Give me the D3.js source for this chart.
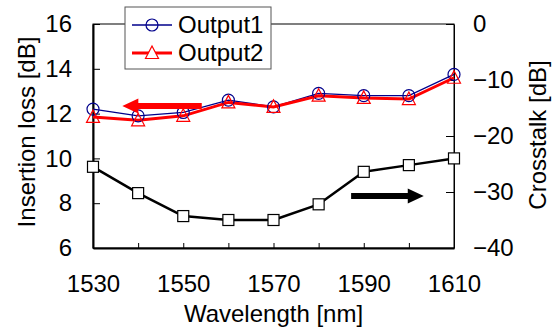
<!DOCTYPE html>
<html>
<head>
<meta charset="utf-8">
<script src="https://cdn.jsdelivr.net/npm/d3@7"></script>
<style>
  body { margin: 0; background: #fff; }
  svg text { font-family: "Liberation Sans", Arial, sans-serif; fill: #000; }
</style>
</head>
<body>
<svg width="554" height="331"></svg>
<script>
// longueurs d'onde (nm)
var wavelengths = [1530, 1540, 1550, 1560, 1570, 1580, 1590, 1600, 1610];
// pertes d'insertion (dB), axe de gauche
var output1 = [12.2, 11.9, 12.05, 12.6, 12.3, 12.9, 12.8, 12.8, 13.75];
var output2 = [11.85, 11.7, 11.9, 12.5, 12.3, 12.8, 12.7, 12.65, 13.6];
// diaphonie (dB), axe de droite
var crosstalk = [-25.5, -30.2, -34.3, -35.0, -35.0, -32.2, -26.4, -25.2, -24.0];

var xTicks = [1530, 1550, 1570, 1590, 1610];
var xMinorTicks = [1530, 1540, 1550, 1560, 1570, 1580, 1590, 1600, 1610];
var leftTicks = [6, 8, 10, 12, 14, 16];
var rightTicks = [-40, -30, -20, -10, 0];

var svg = d3.select("svg");
var margin = { top: 24, right: 100, bottom: 83, left: 93 };
var width = 554 - margin.left - margin.right;
var height = 331 - margin.top - margin.bottom;

var g = svg.append("g")
    .attr("transform", "translate(" + margin.left + "," + margin.top + ")");

var x = d3.scaleLinear().domain([1530, 1610]).range([0, width]);
var yL = d3.scaleLinear().domain([6, 16]).range([height, 0]);
var yR = d3.scaleLinear().domain([-40, 0]).range([height, 0]);

// cadre fin en haut et a droite
g.append("rect")
    .attr("width", width).attr("height", height)
    .attr("fill", "none").attr("stroke", "#000").attr("stroke-width", 1);

// axe du bas : petites graduations vers l'interieur
var xAxis = g.append("g")
    .attr("transform", "translate(0," + height + ")")
    .call(d3.axisBottom(x).tickValues(xMinorTicks).tickSizeInner(-5).tickSizeOuter(0).tickFormat(""));
xAxis.select(".domain").attr("stroke-width", 2);
g.append("g")
    .attr("transform", "translate(0," + height + ")")
    .call(d3.axisBottom(x).tickValues(xTicks).tickSize(0).tickPadding(27).tickFormat(d3.format("d")))
    .call(function(a) { a.select(".domain").remove(); })
    .selectAll("text").attr("font-size", 24);

var leftAxis = g.append("g")
    .call(d3.axisLeft(yL).tickValues(leftTicks).tickSizeInner(-7).tickSizeOuter(0).tickPadding(21));
leftAxis.select(".domain").attr("stroke-width", 2);
leftAxis.selectAll("text").attr("font-size", 24);

var rightAxis = g.append("g")
    .attr("transform", "translate(" + width + ",0)")
    .call(d3.axisRight(yR).tickValues(rightTicks).tickSizeInner(-8).tickSizeOuter(0).tickPadding(19));
rightAxis.selectAll("text").attr("font-size", 24);

// titres des axes
svg.append("text")
    .attr("x", margin.left + width / 2).attr("y", 322)
    .attr("text-anchor", "middle").attr("font-size", 24)
    .text("Wavelength [nm]");
svg.append("text")
    .attr("transform", "translate(35,132) rotate(-90)")
    .attr("text-anchor", "middle").attr("font-size", 24)
    .text("Insertion loss [dB]");
svg.append("text")
    .attr("transform", "translate(546,135) rotate(-90)")
    .attr("text-anchor", "middle").attr("font-size", 24)
    .text("Crosstalk [dB]");

// courbes
var lineL = d3.line().x(function(d, i) { return x(wavelengths[i]); }).y(function(d) { return yL(d); });
var lineR = d3.line().x(function(d, i) { return x(wavelengths[i]); }).y(function(d) { return yR(d); });

g.append("path").attr("d", lineR(crosstalk))
    .attr("fill", "none").attr("stroke", "#000").attr("stroke-width", 2.5).attr("stroke-linejoin", "round");
g.selectAll(".sq").data(crosstalk).enter().append("rect")
    .attr("x", function(d, i) { return x(wavelengths[i]) - 5.5; })
    .attr("y", function(d) { return yR(d) - 5.5; })
    .attr("width", 11).attr("height", 11)
    .attr("fill", "#fff").attr("stroke", "#000").attr("stroke-width", 1.2);

g.append("path").attr("d", lineL(output1))
    .attr("fill", "none").attr("stroke", "#00008b").attr("stroke-width", 1.3);
g.append("path").attr("d", lineL(output2))
    .attr("fill", "none").attr("stroke", "#ff0000").attr("stroke-width", 3);

// triangle un peu plus haut que large, comme dans l'original
var tri = "M0,-7L6.5,5.5L-6.5,5.5Z";
g.selectAll(".circ").data(output1).enter().append("circle")
    .attr("cx", function(d, i) { return x(wavelengths[i]); })
    .attr("cy", function(d) { return yL(d); })
    .attr("r", 6)
    .attr("fill", "none").attr("stroke", "#00008b").attr("stroke-width", 1.2);
g.selectAll(".tri").data(output2).enter().append("path")
    .attr("d", tri)
    .attr("transform", function(d, i) { return "translate(" + x(wavelengths[i]) + "," + yL(d) + ")"; })
    .attr("fill", "none").attr("stroke", "#ff0000").attr("stroke-width", 1.2);

// fleches indiquant l'axe de chaque courbe
function arrow(x0, x1, y, color) {
    var dir = x1 > x0 ? 1 : -1;
    var head = 16 * dir;
    var pts = [[x0, y - 3], [x1 - head, y - 3], [x1 - head, y - 7.5], [x1, y],
               [x1 - head, y + 7.5], [x1 - head, y + 3], [x0, y + 3]];
    g.append("path").attr("d", d3.line()(pts) + "Z").attr("fill", color);
}
arrow(x(1554.1), x(1536.5), yL(12.34), "#ff0000");
arrow(x(1587.2), x(1603.3), yR(-30.7), "#000");

// legende
var leg = svg.append("g");
leg.append("rect").attr("x", 125).attr("y", 7).attr("width", 146).attr("height", 62)
    .attr("fill", "#fff").attr("stroke", "#555").attr("stroke-width", 1);
var legItems = [
    { name: "Output1", color: "#00008b", w: 1.3, sym: "circle" },
    { name: "Output2", color: "#ff0000", w: 3, sym: "tri" }
];
legItems.forEach(function(it, i) {
    var cy = 25 + i * 28;
    leg.append("line").attr("x1", 132).attr("x2", 172).attr("y1", cy).attr("y2", cy)
        .attr("stroke", it.color).attr("stroke-width", it.w);
    if (it.sym === "circle") {
        leg.append("circle").attr("cx", 152).attr("cy", cy).attr("r", 6)
            .attr("fill", "none").attr("stroke", it.color).attr("stroke-width", 1.2);
    } else {
        leg.append("path").attr("d", tri).attr("transform", "translate(152," + cy + ")")
            .attr("fill", "#fff").attr("stroke", it.color).attr("stroke-width", 1.2);
    }
    leg.append("text").attr("x", 178).attr("y", cy).attr("dy", "0.35em")
        .attr("font-size", 24).text(it.name);
});
</script>
</body>
</html>
